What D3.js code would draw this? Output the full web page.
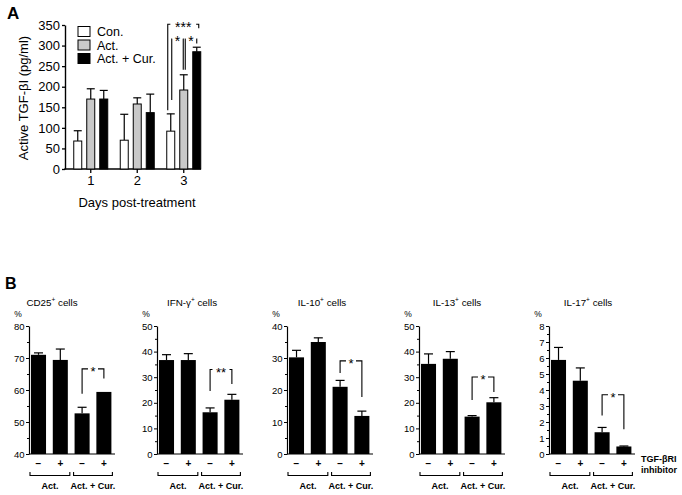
<!DOCTYPE html>
<html><head><meta charset="utf-8">
<script src="https://cdn.jsdelivr.net/npm/d3@7"></script>
<style>
body{margin:0;background:#fff;}
svg{display:block;font-family:"Liberation Sans",Arial,sans-serif;}
</style></head>
<body><svg id="c" width="682" height="495"></svg>
<script>
// ---------- Panel A data ----------
const days = ["1", "2", "3"];
const seriesA = ["Con.", "Act.", "Act. + Cur."];
const conVals = [68, 70, 92];
const conErr = [25, 63, 42];
const actVals = [170, 158, 192];
const actErr = [25, 15, 37];
const curVals = [170, 137, 285];
const curErr = [21, 45, 11];
const ticksA = [0, 50, 100, 150, 200, 250, 300, 350];

// ---------- Panel B data ----------
const bCats = ["−", "+", "−", "+"];
const bGroups = ["Act.", "Act. + Cur."];
const panelNames = ["CD25", "IFN-γ", "IL-10", "IL-13", "IL-17"];
const yMin = [40, 0, 0, 0, 0];
const yMax = [80, 50, 40, 50, 8];
const yStep = [10, 10, 10, 10, 1];
const cd25Vals = [71.0, 69.4, 52.7, 59.4];
const cd25Err = [0.6, 3.4, 1.9, 0];
const ifnVals = [36.7, 36.7, 16.3, 21.2];
const ifnErr = [2.1, 2.5, 1.7, 2.1];
const il10Vals = [30.2, 35.0, 21.0, 11.9];
const il10Err = [2.2, 1.3, 2.0, 1.5];
const il13Vals = [35.2, 37.2, 14.6, 20.2];
const il13Err = [3.9, 2.8, 0.4, 1.8];
const il17Vals = [5.88, 4.58, 1.36, 0.47];
const il17Err = [0.78, 0.8, 0.3, 0.03];
// significance brackets (y of top line, left leg end, right leg end) in data units
const sigB = [[66.6, 58.8, 63.6], [33.0, 24.6, 27.3], [29.1, 25.3, 17.8], [30.1, 21.1, 24.2], [3.7, 2.4, 1.55]];
const sigLabelB = ["*", "**", "*", "*", "*"];

const svg = d3.select("#c");
const black = "#000";

// ================= PANEL A =================
const gA = svg.append("g");
gA.append("text").attr("x", 7).attr("y", 19).attr("font-size", 17).attr("font-weight", "bold").text("A");

const yA = d3.scaleLinear().domain([0, 350]).range([169, 25]);
const xA = d3.scaleBand().domain(days).range([67.5, 207]);
const xS = d3.scaleBand().domain(seriesA).range([xA.bandwidth() / 2 - 17, xA.bandwidth() / 2 + 17]).paddingInner(0.385);
const fillA = {"Con.": "#fff", "Act.": "#c9c9c9", "Act. + Cur.": "#000"};
const valsA = {"Con.": conVals, "Act.": actVals, "Act. + Cur.": curVals};
const errsA = {"Con.": conErr, "Act.": actErr, "Act. + Cur.": curErr};

const axA = gA.append("g").attr("transform", "translate(65,0)")
  .call(d3.axisLeft(yA).tickValues(ticksA).tickSize(3).tickPadding(2).tickSizeOuter(0));
axA.select(".domain").attr("stroke-width", 1.4);
axA.selectAll("text").attr("font-size", 13).attr("font-family", "Liberation Sans, Arial, sans-serif");
axA.selectAll(".tick line").attr("stroke-width", 1.3);

const axAx = gA.append("g").attr("transform", "translate(0,169)")
  .call(d3.axisBottom(xA).tickSize(4).tickPadding(3).tickSizeOuter(0));
axAx.select(".domain").remove();
axAx.selectAll("text").attr("font-size", 13).attr("font-family", "Liberation Sans, Arial, sans-serif");
axAx.selectAll(".tick line").attr("stroke-width", 1.3);
gA.append("line").attr("x1", 64.3).attr("x2", 201).attr("y1", 169).attr("y2", 169).attr("stroke", black).attr("stroke-width", 1.4);

seriesA.forEach(s => {
  const g = gA.append("g");
  days.forEach((d, i) => {
    const x = xA(d) + xS(s), w = xS.bandwidth(), v = valsA[s][i], e = errsA[s][i];
    const cx = x + w / 2;
    g.append("line").attr("x1", cx).attr("x2", cx).attr("y1", yA(v)).attr("y2", yA(v + e)).attr("stroke", black).attr("stroke-width", 1.2);
    g.append("line").attr("x1", cx - 4).attr("x2", cx + 4).attr("y1", yA(v + e)).attr("y2", yA(v + e)).attr("stroke", black).attr("stroke-width", 1.2);
    g.append("rect").attr("x", x).attr("y", yA(v)).attr("width", w).attr("height", yA(0) - yA(v))
      .attr("fill", fillA[s]).attr("stroke", black).attr("stroke-width", 1);
  });
});

// legend
seriesA.forEach((s, i) => {
  const cy = 31.5 + i * 13.5;
  gA.append("rect").attr("x", 78).attr("y", cy - 5).attr("width", 12).attr("height", 10).attr("fill", fillA[s]).attr("stroke", black).attr("stroke-width", 1);
  gA.append("text").attr("x", 97).attr("y", cy + 4.5).attr("font-size", 12.5).text(s);
});

// significance in A (day 3)
function bracketA(x1, x2, top, l, r, label, fs) {
  const mid = (x1 + x2) / 2, gap = label.length * 3.8 + 1.5;
  const g = gA.append("g").attr("stroke", black).attr("stroke-width", 1.1).attr("fill", "none");
  g.append("path").attr("d", `M${x1},${yA(l)}V${yA(top)}H${mid - gap}`);
  g.append("path").attr("d", `M${x2},${yA(r)}V${yA(top)}H${mid + gap}`);
  gA.append("text").attr("x", mid).attr("y", yA(top) + 7.5).attr("text-anchor", "middle").attr("font-size", fs).text(label);
}
const d3c = xA("3");
const xCon = d3c + xS("Con.") + xS.bandwidth() / 2, xAct = d3c + xS("Act.") + xS.bandwidth() / 2, xCur = d3c + xS("Act. + Cur.") + xS.bandwidth() / 2;
bracketA(xCon - 3, xCur + 2, 352, 143, 342, "***", 14);
bracketA(xCon + 1, xAct - 0.5, 316, 168, 241, "*", 14);
bracketA(xAct + 1.5, xCur, 316, 241, 305, "*", 14);

gA.append("text").attr("transform", "translate(28,98) rotate(-90)").attr("text-anchor", "middle").attr("font-size", 13).text("Active TGF-βI (pg/ml)");
gA.append("text").attr("x", 137).attr("y", 207).attr("text-anchor", "middle").attr("font-size", 13).text("Days post-treatment");

// ================= PANEL B =================
svg.append("text").attr("x", 5).attr("y", 289).attr("font-size", 16).attr("font-weight", "bold").text("B");
const axisX = [29, 157, 287, 419, 549];
const titleX = [52, 192, 322, 457, 588];
const allVals = [cd25Vals, ifnVals, il10Vals, il13Vals, il17Vals];
const allErr = [cd25Err, ifnErr, il10Err, il13Err, il17Err];
const idx = [0, 1, 2, 3];

panelNames.forEach((name, p) => {
  const ax = axisX[p];
  const g = svg.append("g");
  const y = d3.scaleLinear().domain([yMin[p], yMax[p]]).range([454, 326]);
  const x = d3.scaleBand().domain(idx).range([ax + 2, ax + 82.4]).paddingInner(0.31).paddingOuter(0);
  const tv = d3.range(yMin[p], yMax[p] + 0.001, yStep[p]);
  const minor = d3.range(yMin[p] + yStep[p] / 2, yMax[p], yStep[p]);

  // title
  const t = g.append("text").attr("x", titleX[p]).attr("y", 306).attr("text-anchor", "middle").attr("font-size", 9.8);
  t.append("tspan").text(name);
  t.append("tspan").attr("dy", -4).attr("font-size", 6.5).text("+");
  t.append("tspan").attr("dy", 4).text(" cells");
  g.append("text").attr("x", ax - 11).attr("y", 317).attr("text-anchor", "middle").attr("font-size", 8.5).text("%");

  // axes
  const ya = g.append("g").attr("transform", `translate(${ax},0)`)
    .call(d3.axisLeft(y).tickValues(tv).tickSize(3).tickPadding(1.5).tickSizeOuter(0).tickFormat(d3.format("d")));
  ya.selectAll("text").attr("font-size", 9.5).attr("font-family", "Liberation Sans, Arial, sans-serif");
  ya.select(".domain").attr("stroke-width", 1.2);
  const ym = g.append("g").attr("transform", `translate(${ax},0)`)
    .call(d3.axisLeft(y).tickValues(minor).tickSize(2).tickFormat(""));
  ym.select(".domain").remove();
  g.append("line").attr("x1", ax).attr("x2", ax + 86).attr("y1", 454).attr("y2", 454).attr("stroke", black).attr("stroke-width", 1.2);

  // bars
  idx.forEach(i => {
    const v = allVals[p][i], e = allErr[p][i];
    const bx = x(i), w = x.bandwidth(), cx = bx + w / 2;
    if (e > 0.05 * yStep[p] * 0.1) {
      g.append("line").attr("x1", cx).attr("x2", cx).attr("y1", y(v)).attr("y2", y(v + e)).attr("stroke", black).attr("stroke-width", 1.2);
      g.append("line").attr("x1", cx - 4.5).attr("x2", cx + 4.5).attr("y1", y(v + e)).attr("y2", y(v + e)).attr("stroke", black).attr("stroke-width", 1.2);
    }
    g.append("rect").attr("x", bx).attr("y", y(v)).attr("width", w).attr("height", 454 - y(v)).attr("fill", black);
    g.append("text").attr("x", cx).attr("y", 467).attr("text-anchor", "middle").attr("font-size", 10).attr("font-weight", "bold").text(bCats[i]);
  });

  // significance bracket
  const [top, l, r] = sigB[p];
  const x1 = x(2) + x.bandwidth() / 2, x2 = x(3) + x.bandwidth() / 2, mid = (x1 + x2) / 2;
  const gap = sigLabelB[p].length * 3.5 + 1.5;
  const sg = g.append("g").attr("stroke", black).attr("stroke-width", 1.1).attr("fill", "none");
  sg.append("path").attr("d", `M${x1},${y(l)}V${y(top)}H${mid - gap}`);
  sg.append("path").attr("d", `M${x2},${y(r)}V${y(top)}H${mid + gap}`);
  g.append("text").attr("x", mid).attr("y", y(top) + 7).attr("text-anchor", "middle").attr("font-size", 13).text(sigLabelB[p]);

  // group brackets
  const groupsX = [[x(0) - 1, x(1) + x.bandwidth() + 2], [x(2) - 1, x(3) + x.bandwidth() + 1]];
  bGroups.forEach((gn, k) => {
    const [a, b] = groupsX[k];
    g.append("path").attr("d", `M${a},472V475.5H${b}V472`).attr("stroke", black).attr("stroke-width", 1.1).attr("fill", "none");
    g.append("text").attr("x", (a + b) / 2).attr("y", 489).attr("text-anchor", "middle").attr("font-size", 9).attr("font-weight", "bold").text(gn);
  });
});

svg.append("text").attr("x", 641).attr("y", 462).attr("font-size", 9).attr("font-weight", "bold").text("TGF-βRI");
svg.append("text").attr("x", 641).attr("y", 473).attr("font-size", 9).attr("font-weight", "bold").text("inhibitor");
</script></body></html>
